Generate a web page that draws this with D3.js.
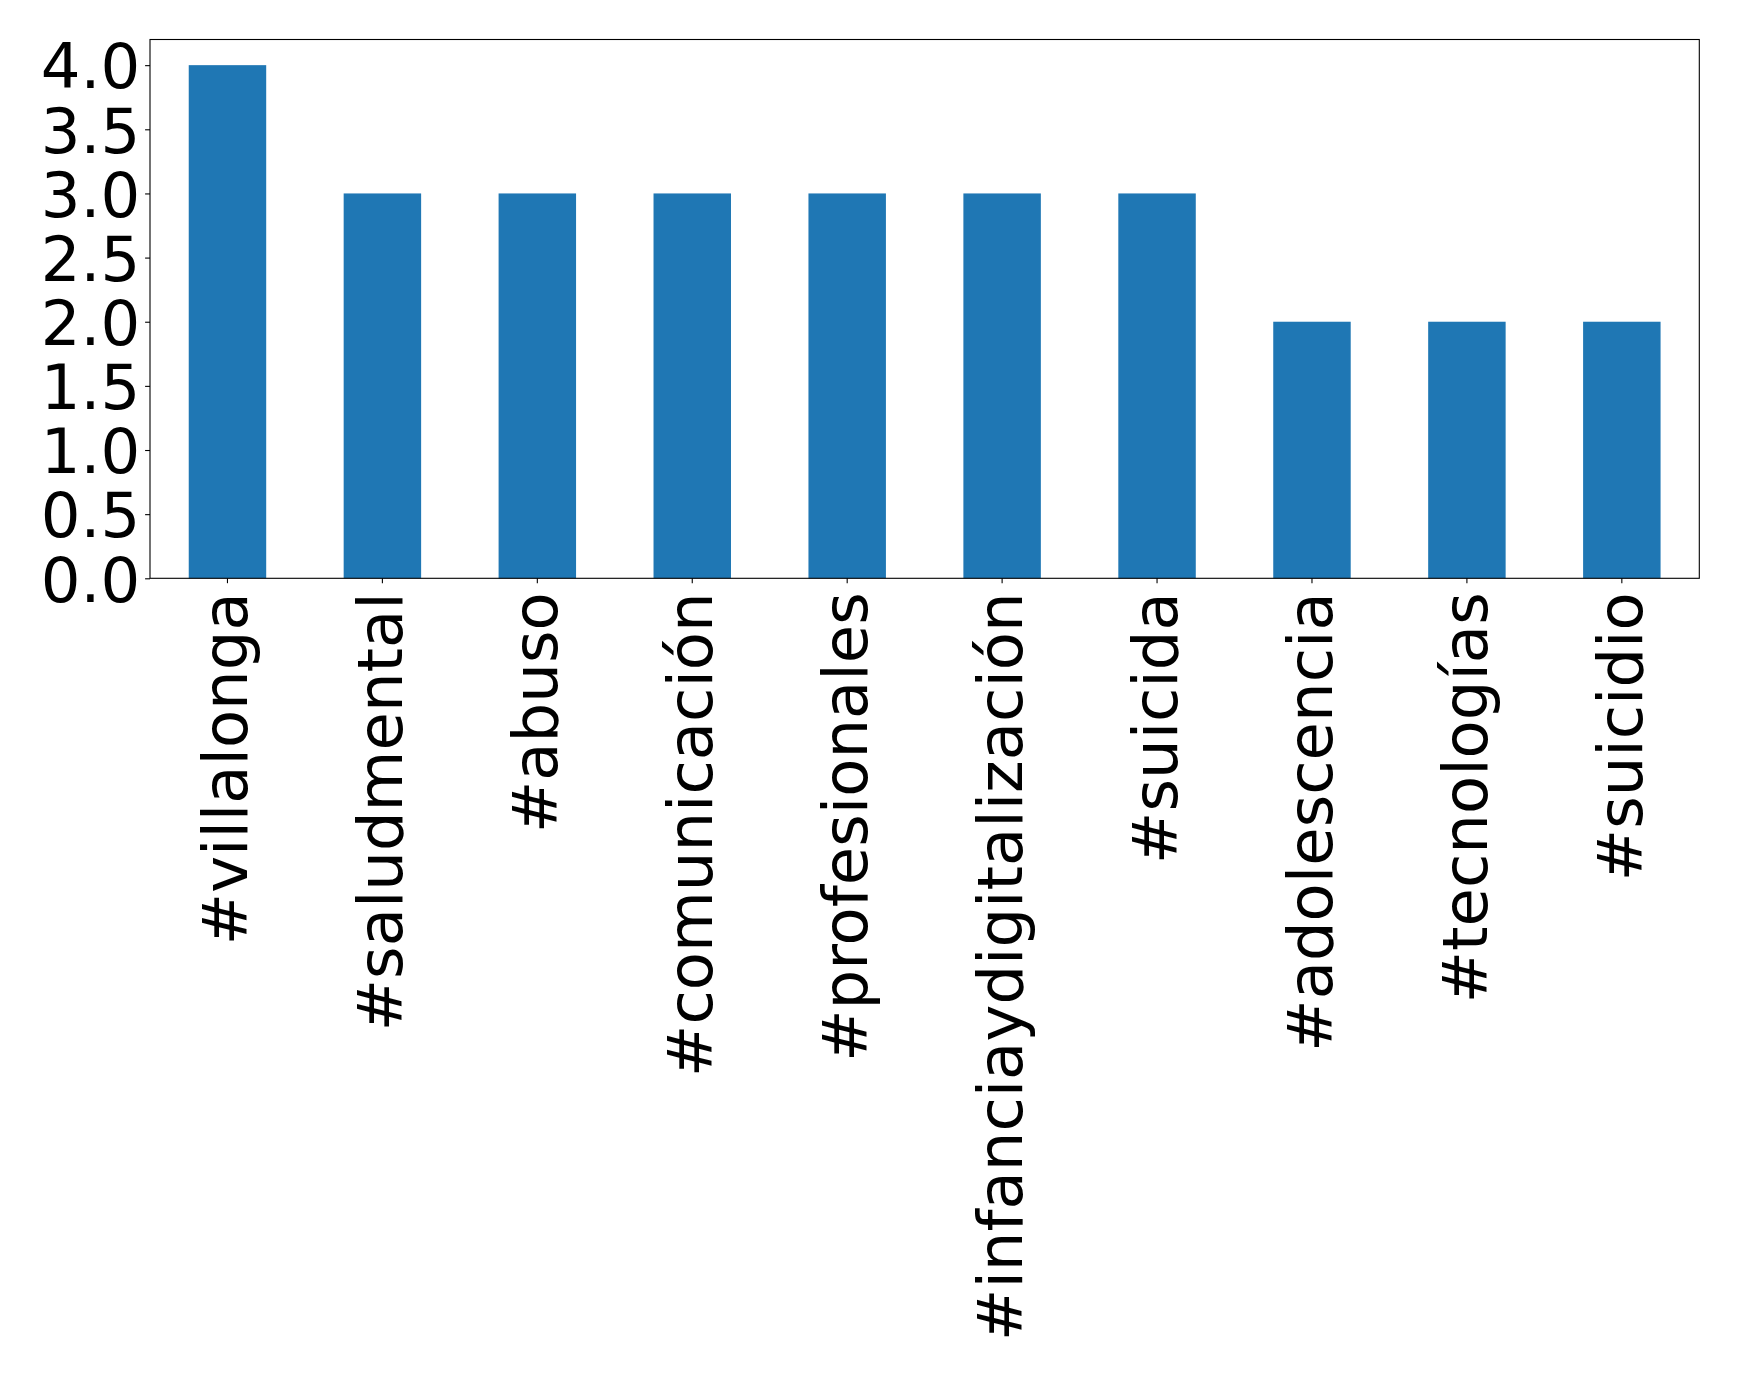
<!DOCTYPE html>
<html><head><meta charset="utf-8">
<script src="https://cdn.jsdelivr.net/npm/d3@7"></script>
<style>body{margin:0;background:#fff;} text{font-family:"DejaVu Sans";}</style>
</head><body>
<svg id="c" width="1739" height="1376"></svg>
<script>
const categories = ["#villalonga","#saludmental","#abuso","#comunicación","#profesionales","#infanciaydigitalización","#suicida","#adolescencia","#tecnologías","#suicidio"];
const values = [4,3,3,3,3,3,3,2,2,2];
const yTicks = [0,0.5,1,1.5,2,2.5,3,3.5,4];
const yTickLabels = ["0.0","0.5","1.0","1.5","2.0","2.5","3.0","3.5","4.0"];

const L=150, R=1699.3, T=39.5, B=578.3;
const svg = d3.select("#c");
const x = d3.scaleBand().domain(categories).range([L,R]).paddingInner(0.5).paddingOuter(0.25);
const y = d3.scaleLinear().domain([0,4.2]).range([B,T]);

svg.selectAll("rect.bar").data(values).enter().append("rect")
  .attr("class","bar")
  .attr("x",(d,i)=>x(categories[i]))
  .attr("width",x.bandwidth())
  .attr("y",d=>y(d))
  .attr("height",d=>B-y(d))
  .attr("fill","#1f77b4");

const fs = 62.5;
const ya = svg.append("g").attr("transform",`translate(${L},0)`)
  .call(d3.axisLeft(y).tickValues(yTicks).tickFormat((d,i)=>yTickLabels[i]).tickSize(4.9).tickPadding(4.9));
ya.select(".domain").remove();
ya.selectAll("line").attr("stroke","#000").attr("stroke-width",1.1);
ya.selectAll("text").attr("font-size",fs).attr("font-family","DejaVu Sans").attr("fill","#000").attr("dy","0.365em");

const xa = svg.append("g").attr("transform",`translate(0,${B})`)
  .call(d3.axisBottom(x).tickSize(4.9).tickPadding(0));
xa.select(".domain").remove();
xa.selectAll("line").attr("stroke","#000").attr("stroke-width",1.1);
xa.selectAll("text")
  .attr("font-size",fs).attr("font-family","DejaVu Sans").attr("fill","#000")
  .attr("y",0).attr("dy","0.32em")
  .attr("text-anchor","end")
  .attr("transform","translate(0,14) rotate(-90)");

svg.append("rect").attr("x",L).attr("y",T).attr("width",R-L).attr("height",B-T)
  .attr("fill","none").attr("stroke","#000").attr("stroke-width",1.1);
</script>
</body></html>
